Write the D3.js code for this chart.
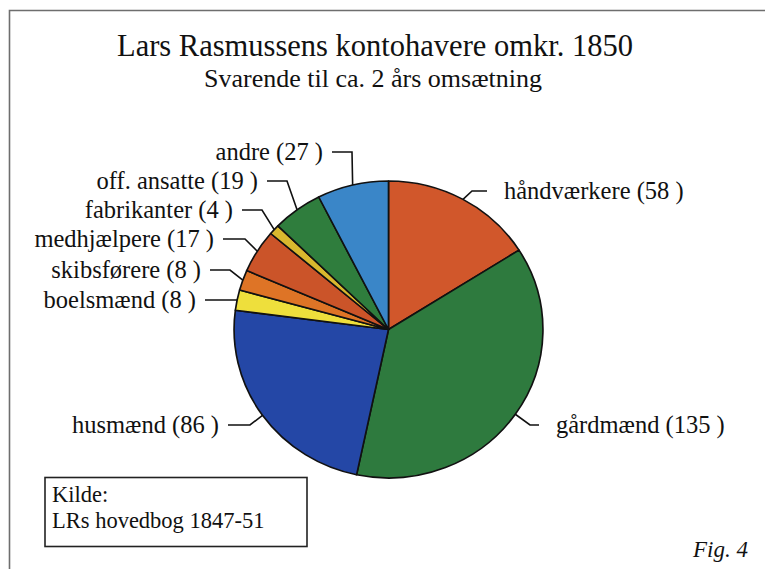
<!DOCTYPE html>
<html>
<head>
<meta charset="utf-8">
<script src="https://cdn.jsdelivr.net/npm/d3@7"></script>
<style>
  html, body { margin: 0; padding: 0; background: #fff; }
  svg { display: block; }
</style>
</head>
<body>
<svg id="chart" width="765" height="569"></svg>
<script>
// ---- data ----
const categories = ["håndværkere", "gårdmænd", "husmænd", "boelsmænd", "skibsførere",
                    "medhjælpere", "fabrikanter", "off. ansatte", "andre"];
const values = [58, 135, 86, 8, 8, 17, 4, 19, 27];
const colors = ["#D1572B", "#2E7A3E", "#2447A6", "#EEDF3C", "#DE7426",
                "#CB5429", "#D9B82E", "#2F7D3D", "#3A86C8"];
const title = "Lars Rasmussens kontohavere omkr. 1850";
const subtitle = "Svarende til ca. 2 års omsætning";
const sourceLines = ["Kilde:", "LRs hovedbog 1847-51"];
const figLabel = "Fig. 4";

// ---- layout (label anchors) ----
const labelLayout = [
  { side: "right", y: 191, x: 504, knee: 472 },
  { side: "right", y: 425, x: 556, knee: 530 },
  { side: "left",  y: 425, x: 219, knee: 250 },
  { side: "left",  y: 300, x: 196, knee: 226 },
  { side: "left",  y: 270, x: 201, knee: 230 },
  { side: "left",  y: 239, x: 214, knee: 245 },
  { side: "left",  y: 210, x: 233, knee: 262 },
  { side: "left",  y: 181, x: 258, knee: 287 },
  { side: "left",  y: 152, x: 323, knee: 352 }
];

const FONT = "'Liberation Serif', 'Times New Roman', Times, 'DejaVu Serif', serif";
const svg = d3.select("#chart");

// frame
svg.append("path")
  .attr("d", "M9.5,569 L9.5,10.5 L765,10.5")
  .attr("fill", "none").attr("stroke", "#6e6e6e").attr("stroke-width", 1.6);

function txt(x, y, s, size, anchor) {
  return svg.append("text")
    .attr("x", x).attr("y", y)
    .attr("text-anchor", anchor || "start")
    .style("font-family", FONT).style("font-size", size + "px")
    .style("fill", "#111").text(s);
}

// titles
txt(375, 56, title, 30.5, "middle");
txt(373, 87, subtitle, 26, "middle");

// pie
const cx = 388.5, cy = 329.5, r = 148.5, sx = 1.04;
const pie = d3.pie().sort(null).value(d => d);
const arcs = pie(values);
const arc = d3.arc().innerRadius(0).outerRadius(r);

const g = svg.append("g").attr("transform", `translate(${cx},${cy}) scale(${sx},1)`);
g.selectAll("path").data(arcs).join("path")
  .attr("d", arc)
  .attr("fill", (d, i) => colors[i])
  .attr("stroke", "#111").attr("stroke-width", 1.6)
  .attr("stroke-linejoin", "round");

// labels + leader lines
arcs.forEach((d, i) => {
  const L = labelLayout[i];
  const a = (d.startAngle + d.endAngle) / 2;
  const ex = cx + sx * r * Math.sin(a);
  const ey = cy - r * Math.cos(a);
  const startX = L.side === "left" ? L.x + 9 : L.x - 17;
  svg.append("path")
    .attr("d", `M${startX},${L.y} L${L.knee},${L.y} L${ex},${ey}`)
    .attr("fill", "none").attr("stroke", "#111").attr("stroke-width", 1.6);
  txt(L.x, L.y + 8, `${categories[i]} (${values[i]} )`, 24.5,
      L.side === "left" ? "end" : "start");
});

// source box
svg.append("rect").attr("x", 45).attr("y", 477.5).attr("width", 262).attr("height", 69)
  .attr("fill", "none").attr("stroke", "#222").attr("stroke-width", 1.6);
sourceLines.forEach((s, i) => txt(52, 502 + i * 26, s, 22.5));

// fig label
txt(748, 557, figLabel, 23, "end").style("font-style", "italic");
</script>
</body>
</html>
